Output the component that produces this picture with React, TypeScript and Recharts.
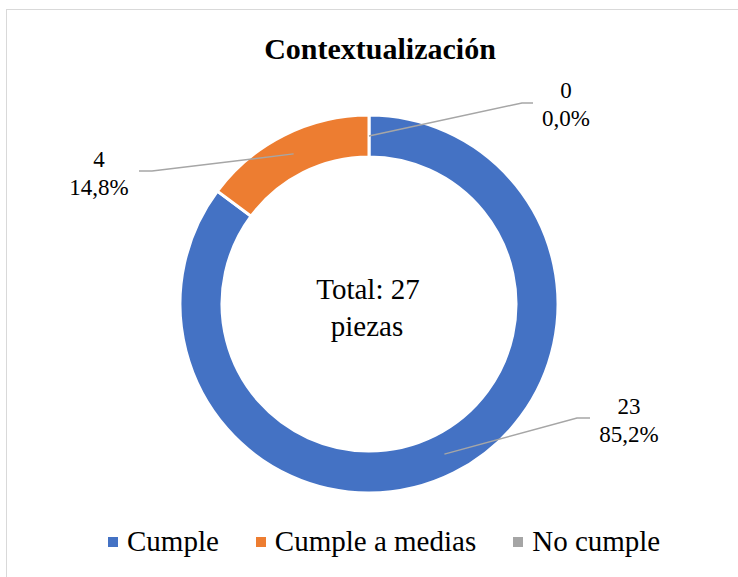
import React from 'react';
import { PieChart, Pie, Cell, Legend } from 'recharts';

const categories = ['Cumple', 'Cumple a medias', 'No cumple'];
const counts = [23, 4, 0];
const percentLabels = ['85,2%', '14,8%', '0,0%'];
const colors = ['#4472C4', '#ED7D31', '#A5A5A5'];

const chartTitle = 'Contextualización';
const centerLines = ['Total: 27', 'piezas'];

const data = categories.map((name, i) => ({ name, value: counts[i] }));

// leader line elbow / end and text position, relative to the pie centre
const labelLayout = [
  { elbow: [208, 114], end: [221, 114], text: [260, 102] },
  { elbow: [-217, -133], end: [-230, -133], text: [-270, -145] },
  { elbow: [153, -201], end: [164, -201], text: [197, -214] },
];

const FONT = "'Liberation Serif', 'Times New Roman', Tinos, 'DejaVu Serif', serif";
const RAD = Math.PI / 180;

const renderLabel = (props: any) => {
  const { cx, cy, midAngle, innerRadius, outerRadius, index } = props;
  const lay = labelLayout[index];
  const r = (innerRadius + outerRadius) / 2;
  const sx = cx + r * Math.cos(-midAngle * RAD);
  const sy = cy + r * Math.sin(-midAngle * RAD);
  const pts = `${sx},${sy} ${cx + lay.elbow[0]},${cy + lay.elbow[1]} ${cx + lay.end[0]},${cy + lay.end[1]}`;
  const tx = cx + lay.text[0];
  const ty = cy + lay.text[1];
  return (
    <g key={`lbl-${index}`}>
      <polyline points={pts} fill="none" stroke="#A6A6A6" strokeWidth={1.5} />
      <text x={tx} y={ty} textAnchor="middle" dominantBaseline="central" style={{ fontFamily: FONT }} fontSize={23} fill="#000">
        {counts[index]}
      </text>
      <text x={tx} y={ty + 28} textAnchor="middle" dominantBaseline="central" style={{ fontFamily: FONT }} fontSize={23} fill="#000">
        {percentLabels[index]}
      </text>
    </g>
  );
};

const renderLegend = () => (
  <div style={{ display: 'flex', alignItems: 'center', paddingLeft: 108, fontFamily: FONT, fontSize: 29, color: '#000' }}>
    {categories.map((name, i) => (
      <div key={name} style={{ display: 'flex', alignItems: 'center', marginRight: i < categories.length - 1 ? 37 : 0 }}>
        <span style={{ width: 10, height: 10, background: colors[i], marginRight: 9, display: 'inline-block' }} />
        <span>{name}</span>
      </div>
    ))}
  </div>
);

export default function App() {
  return (
    <div style={{ position: 'absolute', left: 0, top: 0, width: 738, height: 577, background: '#fff', overflow: 'hidden', fontFamily: FONT }}>
      <div style={{ position: 'absolute', left: 6, top: 9, width: 760, height: 600, border: '1px solid #D9D9D9' }} />
      <div style={{ position: 'absolute', left: 0, top: 0 }}>
        <PieChart width={738} height={577}>
          <text x={380} y={48} textAnchor="middle" dominantBaseline="central" style={{ fontFamily: FONT }} fontWeight="bold" fontSize={30} fill="#000">
            {chartTitle}
          </text>
          <Pie
            data={data}
            dataKey="value"
            nameKey="name"
            cx={364}
            cy={299}
            innerRadius={147}
            outerRadius={189}
            startAngle={90}
            endAngle={-270}
            stroke="#fff"
            strokeWidth={3}
            label={renderLabel}
            labelLine={false}
            isAnimationActive={false}
          >
            {data.map((entry, index) => (
              <Cell key={`cell-${index}`} fill={colors[index]} />
            ))}
          </Pie>
          <text x={368} y={289} textAnchor="middle" dominantBaseline="central" style={{ fontFamily: FONT }} fontSize={29} fill="#000">
            {centerLines[0]}
          </text>
          <text x={367} y={326} textAnchor="middle" dominantBaseline="central" style={{ fontFamily: FONT }} fontSize={29} fill="#000">
            {centerLines[1]}
          </text>
          <Legend content={renderLegend} wrapperStyle={{ top: 525, left: 0, width: 738 }} />
        </PieChart>
      </div>
    </div>
  );
}
